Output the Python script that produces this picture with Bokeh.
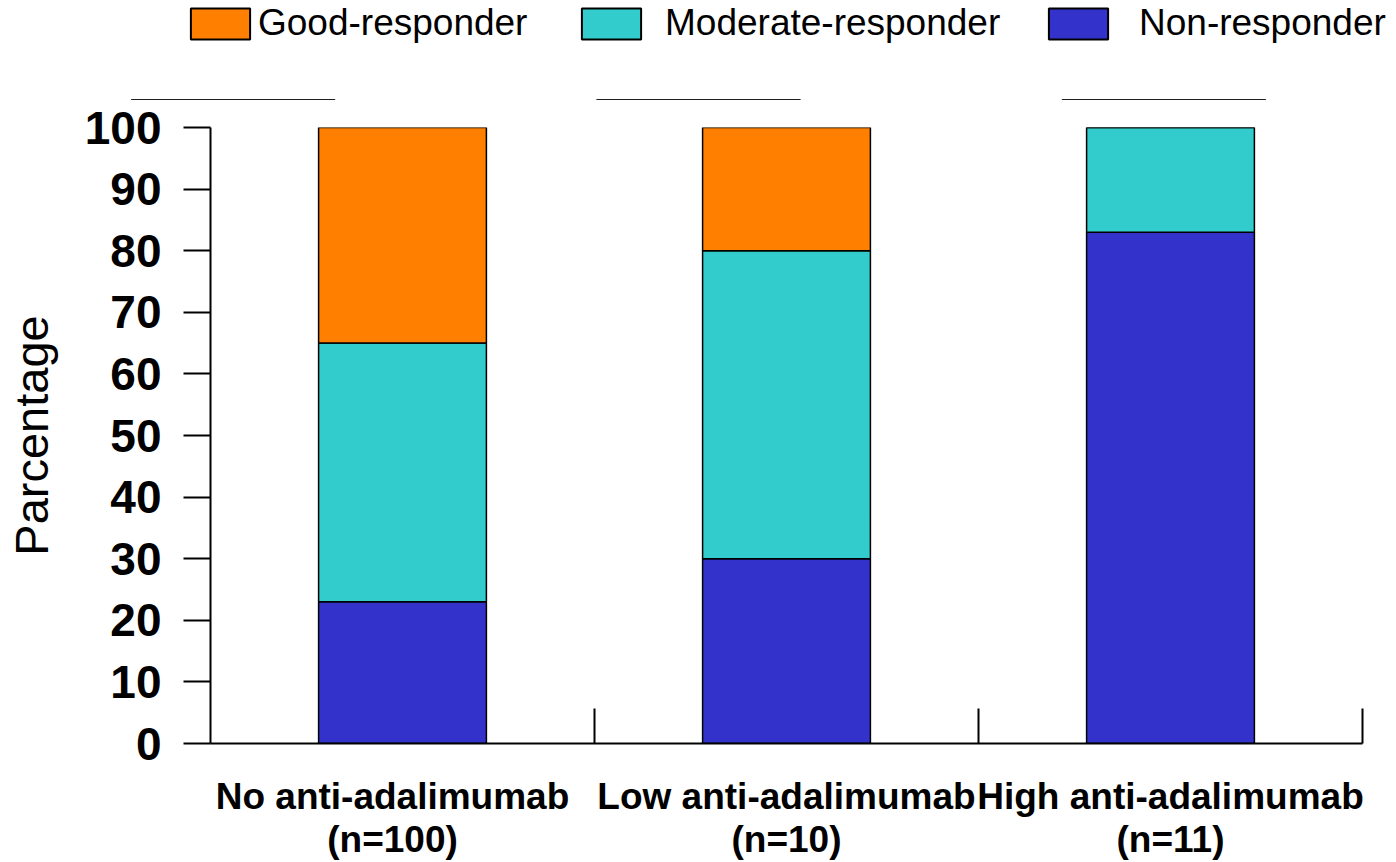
import numpy as np
from bokeh.plotting import figure
from bokeh.layouts import column
from bokeh.models import (Range1d, FixedTicker, Legend, LegendItem, LinearAxis)
from bokeh.embed import file_html
from bokeh.resources import INLINE

categories = ["No anti-adalimumab\n(n=100)", "Low anti-adalimumab\n(n=10)", "High anti-adalimumab\n(n=11)"]
series_names = ["Non-responder", "Moderate-responder", "Good-responder"]
non_resp = [23, 30, 83]
moderate_resp = [42, 50, 17]
good_resp = [35, 20, 0]
colors = ["#3333CC", "#33CCCC", "#FF8000"]
y_ticks = [0, 10, 20, 30, 40, 50, 60, 70, 80, 90, 100]

x = np.arange(len(categories)) + 0.5
data = dict(x=x, non=non_resp, mod=moderate_resp, good=good_resp)

FONT = "Liberation Sans"

# ---------------- legend strip (its own bars lie just below its view) ----------------
lp = figure(width=1396, height=100, min_border=0, x_range=Range1d(0, len(categories)),
            y_range=Range1d(150, 1000),
            output_backend="svg", toolbar_location=None,
            x_axis_location=None, y_axis_location=None)
lp.frame_align = False
lp.grid.visible = False
lp.outline_line_color = None
leg_r = lp.vbar_stack(["non", "mod", "good"], x="x", width=0.437, source=data,
                      fill_color=colors, line_color="black", line_width=2)

legend_spec = [(2, 183, 1), (1, 574, 17), (0, 1041, 24)]
for idx, lx, standoff in legend_spec:
    lg = Legend(items=[LegendItem(label=series_names[idx], renderers=[leg_r[idx]], index=0)],
                location=(lx, 56), orientation="horizontal",
                glyph_width=74, glyph_height=39, label_height=39,
                label_standoff=standoff, padding=0, margin=0,
                border_line_color=None, background_fill_alpha=0,
                label_text_font=FONT, label_text_font_size="37px",
                label_text_color="black")
    lp.add_layout(lg, "center")

# ---------------- main chart ----------------
p = figure(width=1396, height=762, min_border_left=210, min_border_right=34,
           min_border_top=27, min_border_bottom=117,
           x_range=Range1d(0, len(categories)), y_range=Range1d(0, 100),
           output_backend="svg", toolbar_location=None, x_axis_location=None)
p.frame_align = False
p.outline_line_color = None
p.grid.visible = False

renderers = p.vbar_stack(["non", "mod", "good"], x="x", width=0.437, source=data,
                         fill_color=colors, line_color="black", line_width=1.5)

# y axis
yax = p.yaxis[0]
yax.ticker = FixedTicker(ticks=y_ticks)
yax.minor_tick_line_color = None
yax.major_tick_in = 0
yax.major_tick_out = 27
yax.major_tick_line_width = 2
yax.major_tick_line_color = "black"
yax.axis_line_width = 2
yax.axis_line_color = "black"
yax.major_label_text_font = FONT
yax.major_label_text_font_style = "bold"
yax.major_label_text_font_size = "46px"
yax.major_label_text_color = "black"
yax.major_label_standoff = 22
yax.axis_label = "Parcentage"
yax.axis_label_text_font = FONT
yax.axis_label_text_font_style = "normal"
yax.axis_label_text_font_size = "47px"
yax.axis_label_text_color = "black"
yax.axis_label_standoff = 24

# x axis (labels centred under categories, boundary ticks pointing inward)
label_pos = [x[0] - 0.026, x[1], x[2]]
xax = LinearAxis(ticker=FixedTicker(ticks=label_pos, minor_ticks=[1.0, 2.0, 3.0]))
xax.major_label_overrides = {float(v): c for v, c in zip(label_pos, categories)}
xax.major_tick_in = 0
xax.major_tick_out = 0
xax.minor_tick_in = 35
xax.minor_tick_out = 0
xax.minor_tick_line_width = 2
xax.minor_tick_line_color = "black"
xax.axis_line_width = 2
xax.axis_line_color = "black"
xax.major_label_text_font = FONT
xax.major_label_text_font_style = "bold"
xax.major_label_text_font_size = "37px"
xax.major_label_text_color = "black"
xax.major_label_text_line_height = 1.05
xax.major_label_standoff = 32
xax.major_label_text_align = "center"
p.add_layout(xax, "below")

layout = column(lp, p, spacing=0)
open("out.html", "w").write(file_html(layout, INLINE))
